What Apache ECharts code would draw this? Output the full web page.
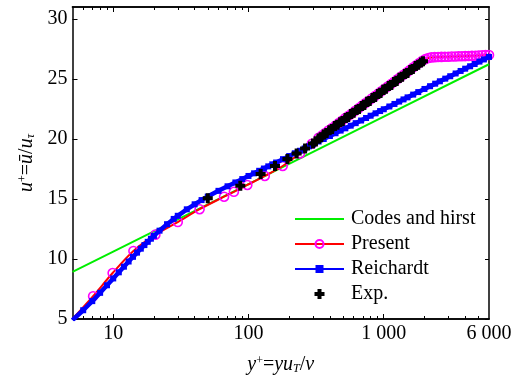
<!DOCTYPE html>
<html><head><meta charset="utf-8">
<script src="https://cdn.jsdelivr.net/npm/echarts@6/dist/echarts.min.js"></script>
<style>html,body{margin:0;padding:0;background:#fff}#c{width:517px;height:380px}</style>
</head><body><div id="c"></div>
<script>
// ---- data ----
const codesX = [5, 10, 100, 1000, 6000];
const codesY = [8.93, 10.62, 16.24, 21.86, 26.23];

const presentX = [5, 7.1, 9.9, 14.1, 20.5, 30, 43.5, 66, 78, 98, 132, 179, 240, 294, 330, 350, 370, 390, 415, 440, 465, 490, 520, 550, 580, 615, 650, 690, 730, 770, 815, 860, 910, 960, 1015, 1070, 1130, 1195, 1260, 1330, 1400, 1480, 1560, 1645, 1735, 1830, 1930, 2035, 2140, 2250, 2380, 2520, 2670, 2830, 3000, 3180, 3370, 3570, 3780, 4000, 4240, 4490, 4760, 5040, 5340, 5660, 6000];
const presentY = [5, 6.9, 8.83, 10.67, 12.03, 13.08, 14.15, 15.19, 15.6, 16.17, 16.92, 17.75, 18.8, 19.6, 20.1, 20.3, 20.5, 20.7, 20.92, 21.13, 21.33, 21.52, 21.74, 21.94, 22.13, 22.35, 22.55, 22.77, 22.97, 23.17, 23.38, 23.57, 23.78, 23.97, 24.18, 24.37, 24.57, 24.77, 24.97, 25.16, 25.35, 25.55, 25.74, 25.95, 26.15, 26.33, 26.52, 26.66, 26.75, 26.8, 26.82, 26.83, 26.84, 26.85, 26.86, 26.87, 26.88, 26.89, 26.9, 26.91, 26.92, 26.93, 26.94, 26.96, 26.98, 26.99, 27.0];

const reichX = [5, 6, 7, 8, 9, 10, 11, 12, 13, 14, 15, 16, 17, 18, 19, 20, 22, 25, 28, 30, 35, 40, 45, 50, 60, 70, 80, 90, 100, 110, 120, 130, 140, 150, 160, 180, 200, 220, 240, 260, 280, 300, 330, 360, 400, 440, 480, 520, 570, 620, 680, 740, 800, 870, 940, 1000, 1100, 1200, 1300, 1400, 1500, 1650, 1800, 2000, 2200, 2400, 2600, 2850, 3100, 3400, 3700, 4000, 4350, 4700, 5100, 5500, 6000];
const reichY = [4.9, 5.73, 6.49, 7.18, 7.81, 8.38, 8.89, 9.36, 9.79, 10.18, 10.53, 10.86, 11.16, 11.43, 11.69, 11.93, 12.36, 12.9, 13.34, 13.6, 14.14, 14.56, 14.91, 15.2, 15.68, 16.06, 16.38, 16.66, 16.92, 17.14, 17.35, 17.54, 17.72, 17.89, 18.04, 18.32, 18.58, 18.81, 19.02, 19.21, 19.39, 19.56, 19.79, 20.0, 20.25, 20.48, 20.7, 20.89, 21.11, 21.32, 21.54, 21.75, 21.94, 22.14, 22.33, 22.48, 22.71, 22.92, 23.12, 23.3, 23.47, 23.7, 23.91, 24.17, 24.4, 24.61, 24.81, 25.03, 25.23, 25.46, 25.67, 25.86, 26.06, 26.25, 26.45, 26.63, 26.84];

const expX = [50, 87, 123, 157, 194, 227, 262, 300, 315, 330, 345, 360, 378, 396, 415, 435, 455, 476, 498, 522, 546, 572, 599, 627, 656, 687, 719, 753, 788, 825, 864, 905, 947, 991, 1038, 1087, 1138, 1191, 1247, 1306, 1367, 1431, 1498, 1569, 1642, 1720, 1800, 1885, 1950];
const expY = [15.06, 16.1, 17.08, 17.75, 18.33, 18.8, 19.2, 19.62, 19.8, 20.05, 20.15, 20.38, 20.5, 20.72, 20.84, 21.08, 21.18, 21.4, 21.5, 21.74, 21.83, 22.08, 22.18, 22.42, 22.5, 22.75, 22.84, 23.1, 23.17, 23.42, 23.5, 23.76, 23.84, 24.1, 24.18, 24.42, 24.5, 24.76, 24.84, 25.1, 25.18, 25.42, 25.5, 25.76, 25.84, 26.08, 26.18, 26.38, 26.47];

const xLabelValues = [10, 100, 1000, 6000];
const xMajorTicks = [10, 100, 1000];
const xMinorTicks = [6, 7, 8, 9, 20, 30, 40, 50, 60, 70, 80, 90, 200, 300, 400, 500, 600, 700, 800, 900, 2000, 3000, 4000, 5000];
const yTickValues = [5, 10, 15, 20, 25, 30];
const seriesNames = ['Codes and hirst', 'Present', 'Reichardt', 'Exp.'];

// ---- chart ----
const FONT = '"Liberation Serif", "Times New Roman", serif';
const pairs = (xs, ys) => xs.map((x, i) => [x, ys[i]]);
const chart = echarts.init(document.getElementById('c'), null, {renderer: 'canvas'});

function xAxisDef(pos, ticks, len, labels) {
  return {
    type: 'log', logBase: 10, min: 5, max: 6000, position: pos,
    axisLine: {show: true, lineStyle: {color: '#000', width: 1.5}},
    axisTick: {show: true, inside: true, length: len, customValues: ticks, lineStyle: {color: '#000', width: 1}},
    axisLabel: labels ? {
      show: true, customValues: xLabelValues, color: '#000', fontFamily: FONT, fontSize: 20, margin: 5,
      formatter: v => String(v).replace(/\B(?=(\d{3})+(?!\d))/g, ' ')
    } : {show: false},
    splitLine: {show: false}
  };
}

const richStyles = {
  i: {fontFamily: FONT, fontSize: 20, fontStyle: 'italic', color: '#000'},
  n: {fontFamily: FONT, fontSize: 20, color: '#000'},
  s: {fontFamily: FONT, fontSize: 12, color: '#000', verticalAlign: 'top', padding: [0, 0, 6, 0]},
  b: {fontFamily: FONT, fontSize: 12, fontStyle: 'italic', color: '#000', verticalAlign: 'bottom', padding: [6, 0, 0, 0]}
};

const option = {
  animation: false,
  backgroundColor: '#fff',
  textStyle: {fontFamily: FONT},
  grid: {left: 72.5, right: 28, top: 7, bottom: 61, containLabel: false},
  xAxis: [
    Object.assign(xAxisDef('bottom', xMajorTicks, 5, true), {
      name: '{i|y}{s|+}{n|=}{i|yu}{b|T}{n|/}{i|v}', nameLocation: 'middle', nameGap: 36,
      nameTextStyle: {fontFamily: FONT, fontSize: 20, color: '#000', rich: richStyles}
    }),
    xAxisDef('bottom', xMinorTicks, 3, false),
    xAxisDef('top', xMajorTicks, 5, false),
    xAxisDef('top', xMinorTicks, 3, false)
  ],
  yAxis: [
    {
      type: 'value', min: 5, max: 31, position: 'left',
      axisLine: {show: true, lineStyle: {color: '#000', width: 1.5}},
      axisTick: {show: true, inside: true, length: 5, customValues: yTickValues, lineStyle: {color: '#000'}},
      axisLabel: {show: true, customValues: yTickValues, color: '#000', fontFamily: FONT, fontSize: 20, margin: 5},
      splitLine: {show: false},
      name: '{i|u}{s|+}{n|=}{i|ū}{n|/}{i|u}{b|τ}', nameLocation: 'middle', nameGap: 33, nameRotate: 90,
      nameTextStyle: {fontFamily: FONT, fontSize: 20, color: '#000', rich: richStyles}
    },
    {
      type: 'value', min: 5, max: 31, position: 'right',
      axisLine: {show: true, lineStyle: {color: '#000', width: 1.5}},
      axisTick: {show: true, inside: true, length: 4, customValues: yTickValues, lineStyle: {color: '#000'}},
      axisLabel: {show: false},
      splitLine: {show: false}
    }
  ],
  legend: {
    orient: 'vertical', left: 294, top: 209, padding: 0,
    itemWidth: 49, itemHeight: 10, itemGap: 5,
    textStyle: {fontFamily: FONT, fontSize: 20, color: '#000', lineHeight: 20, padding: [0, 0, 0, 2]},
    data: [
      {name: seriesNames[0], itemStyle: {opacity: 0}},
      {name: seriesNames[1]},
      {name: seriesNames[2]},
      {name: seriesNames[3]}
    ]
  },
  series: [
    {
      name: seriesNames[0], type: 'line', xAxisIndex: 0, yAxisIndex: 0, z: 2,
      data: pairs(codesX, codesY), showSymbol: false, symbol: 'none',
      lineStyle: {color: '#00ee00', width: 2}, itemStyle: {color: '#00ee00'}
    },
    {
      name: seriesNames[1], type: 'line', xAxisIndex: 0, yAxisIndex: 0, z: 3,
      data: presentX.map((x, i) => i === 0 ? {value: [x, presentY[i]], symbol: 'none'} : [x, presentY[i]]),
      smooth: 0.3, symbol: 'circle', symbolSize: 9, showAllSymbol: true,
      lineStyle: {color: '#ff0000', width: 2},
      itemStyle: {color: 'none', borderColor: '#ff00ff', borderWidth: 1.6}
    },
    {
      name: seriesNames[2], type: 'line', xAxisIndex: 0, yAxisIndex: 0, z: 4,
      data: pairs(reichX, reichY), symbol: 'rect', symbolSize: 6, showAllSymbol: true,
      lineStyle: {color: '#0000ff', width: 4.5}, itemStyle: {color: '#0000ff'}
    },
    {
      name: seriesNames[3], type: 'scatter', xAxisIndex: 0, yAxisIndex: 0, z: 6,
      data: pairs(expX, expY),
      symbol: 'path://M3,0 L7,0 L7,3 L10,3 L10,7 L7,7 L7,10 L3,10 L3,7 L0,7 L0,3 L3,3 Z',
      symbolSize: 10, symbolKeepAspect: true,
      itemStyle: {color: '#000', opacity: 1}
    }
  ]
};
chart.setOption(option);
</script>
</body></html>
